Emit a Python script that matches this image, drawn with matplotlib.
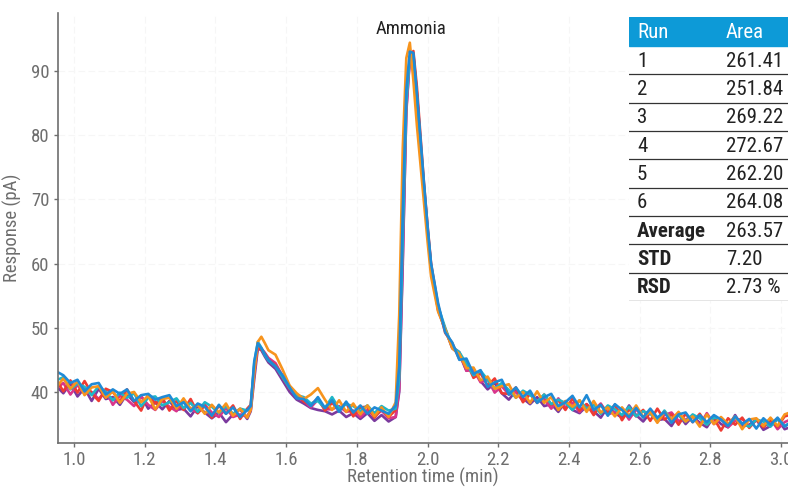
import matplotlib
matplotlib.use("Agg")
import matplotlib.pyplot as plt
from matplotlib.patches import Rectangle

# narrow fonts first, whichever one is installed gets used
plt.rcParams['font.family'] = ['Roboto Condensed', 'DejaVu Sans Condensed', 'Liberation Sans Narrow',
                               'Roboto', 'DejaVu Sans']

# retention time grid (min)
time = [0.95, 0.97, 0.99, 1.01, 1.03, 1.05, 1.07, 1.09, 1.11, 1.13, 1.15, 1.17, 1.19, 1.21,
        1.23, 1.25, 1.27, 1.29, 1.31, 1.33, 1.35, 1.37, 1.39, 1.41, 1.43, 1.45, 1.47, 1.49,
        1.50, 1.51, 1.52, 1.53, 1.54, 1.55, 1.57, 1.59, 1.61, 1.63, 1.65,
        1.67, 1.69, 1.71, 1.73, 1.75, 1.77, 1.79, 1.81, 1.83, 1.85, 1.87, 1.89, 1.91,
        1.92, 1.93, 1.94, 1.95, 1.96, 1.97, 1.98, 1.99, 2.00, 2.01,
        2.03, 2.05, 2.07, 2.09, 2.11, 2.13, 2.15, 2.17, 2.19, 2.21, 2.23, 2.25, 2.27, 2.29,
        2.31, 2.33, 2.35, 2.37, 2.39, 2.41, 2.43, 2.45, 2.47, 2.49, 2.51, 2.53, 2.55, 2.57,
        2.59, 2.61, 2.63, 2.65, 2.67, 2.69, 2.71, 2.73, 2.75, 2.77, 2.79, 2.81, 2.83, 2.85,
        2.87, 2.89, 2.91, 2.93, 2.95, 2.97, 2.99, 3.01, 3.03]

# response (pA) for each run
run1 = [41.9, 40.1, 41.8, 39.9, 41.7, 39.8, 38.6, 40.5, 40.0, 38.5, 40.4, 38.6, 37.1, 39.6,
        38.2, 39.1, 37.1, 38.6, 37.2, 38.9, 36.7, 37.9, 36.0, 37.9, 36.6, 37.9, 35.8, 37.4,
        38.0, 44.0, 47.0, 46.6, 46.0, 45.0, 44.2, 42.3, 40.5, 39.6, 38.5,
        38.0, 39.0, 37.1, 38.3, 37.2, 38.3, 36.2, 37.6, 37.7, 36.0, 37.4, 36.1, 37.2,
        43.0, 66.0, 86.0, 92.0, 93.1, 87.5, 80.0, 72.5, 66.0, 60.0,
        53.5, 49.2, 47.6, 45.1, 44.7, 42.2, 42.9, 41.0, 42.1, 39.8, 39.7, 40.7, 38.4, 39.7,
        38.3, 39.6, 38.0, 38.7, 37.2, 39.0, 37.1, 38.1, 36.4, 38.0, 36.8, 38.0, 35.6, 37.3,
        36.2, 37.2, 35.5, 37.4, 35.7, 36.5, 34.9, 36.6, 35.3, 36.6, 34.9, 35.9, 34.0, 35.9,
        34.9, 36.0, 34.4, 35.7, 34.5, 35.5, 34.6, 36.2, 36.5]
run2 = [40.7, 42.1, 40.5, 41.7, 39.5, 40.7, 40.9, 39.1, 40.1, 38.3, 39.7, 40.0, 38.4, 39.4,
        37.3, 38.9, 39.1, 37.4, 39.0, 37.3, 38.0, 36.6, 38.0, 36.8, 38.2, 36.3, 37.4, 36.0,
        37.2, 43.0, 47.8, 48.6, 47.6, 46.5, 45.8, 43.5, 41.0, 39.8, 38.9,
        39.6, 40.6, 38.8, 37.2, 38.7, 36.9, 38.2, 36.5, 37.9, 36.2, 37.6, 36.1, 38.4,
        52.0, 78.0, 92.0, 94.4, 88.5, 81.5, 75.5, 69.5, 63.5, 58.0,
        52.5, 49.8, 46.8, 45.9, 43.7, 43.8, 41.8, 42.4, 40.5, 40.9, 41.2, 39.1, 40.0, 38.3,
        40.1, 38.3, 39.2, 37.2, 38.6, 37.7, 38.7, 36.9, 38.6, 36.8, 37.6, 36.2, 37.6, 36.3,
        37.9, 36.1, 36.9, 35.2, 36.9, 35.7, 36.9, 35.4, 36.2, 34.6, 36.5, 35.0, 36.1, 35.0,
        36.2, 34.2, 35.7, 35.9, 34.7, 36.0, 34.7, 36.5, 36.9]
run3 = [40.9, 39.8, 41.3, 39.3, 40.6, 38.6, 40.5, 38.9, 39.2, 38.0, 39.7, 38.4, 39.4, 37.4,
        38.4, 37.3, 38.6, 37.2, 37.4, 36.2, 37.8, 36.8, 35.9, 36.8, 35.3, 36.5, 37.3, 35.8,
        37.0, 42.0, 46.8, 46.5, 45.5, 44.6, 43.6, 41.8, 40.0, 38.8, 38.2,
        37.5, 37.2, 37.0, 36.5, 37.1, 36.1, 36.7, 35.8, 36.7, 35.5, 36.4, 35.4, 36.1,
        40.0, 60.0, 84.0, 92.0, 92.5, 86.0, 78.5, 71.5, 65.0, 59.2,
        52.8, 49.8, 46.8, 45.9, 43.3, 43.6, 41.7, 40.4, 41.4, 39.8, 38.8, 40.2, 39.0, 38.1,
        39.2, 37.8, 38.1, 36.9, 38.5, 37.2, 36.7, 37.8, 37.0, 36.0, 37.7, 36.7, 36.0, 37.9,
        36.4, 35.4, 36.8, 35.6, 35.8, 34.7, 36.5, 35.0, 36.2, 35.2, 34.5, 36.2, 35.0, 34.5,
        36.4, 34.6, 34.9, 35.7, 34.1, 34.7, 35.8, 34.2, 34.6]
run4 = [43.2, 42.6, 41.4, 41.9, 40.1, 41.2, 41.4, 39.6, 40.4, 39.7, 40.4, 38.6, 39.5, 39.7,
        38.8, 39.2, 39.5, 37.8, 38.4, 37.0, 38.2, 37.7, 36.3, 38.0, 36.6, 37.6, 36.1, 37.2,
        37.8, 44.8, 47.6, 46.8, 45.9, 45.0, 44.0, 42.6, 40.7, 39.0, 38.9,
        37.8, 39.2, 37.5, 38.7, 36.9, 38.5, 36.8, 37.9, 36.6, 37.6, 37.1, 36.6, 37.9,
        44.0, 68.0, 87.0, 93.0, 92.8, 86.5, 79.5, 72.5, 65.8, 60.0,
        53.8, 49.3, 47.7, 45.0, 45.2, 42.8, 43.4, 40.8, 41.5, 41.9, 39.6, 40.7, 39.2, 40.2,
        38.3, 39.2, 39.7, 37.8, 38.4, 39.4, 37.6, 39.5, 37.2, 38.0, 36.3, 38.1, 37.2, 36.1,
        37.5, 36.0, 37.4, 36.0, 36.9, 35.2, 36.5, 36.8, 35.3, 36.4, 35.3, 36.4, 35.7, 34.7,
        36.2, 35.0, 35.8, 34.3, 35.9, 34.9, 36.0, 34.6, 35.4]
run5 = [41.8, 42.3, 40.4, 41.3, 40.8, 39.5, 40.9, 40.0, 38.7, 39.9, 39.1, 39.8, 37.8, 39.1,
        39.3, 37.9, 38.4, 39.0, 37.5, 38.3, 36.9, 38.4, 37.7, 36.7, 37.8, 36.6, 37.4, 37.1,
        37.6, 44.5, 47.8, 46.9, 45.7, 44.9, 44.0, 42.3, 40.6, 39.5, 39.2,
        38.2, 38.6, 37.5, 39.2, 37.4, 38.1, 37.8, 37.0, 37.9, 36.7, 37.8, 37.1, 37.4,
        42.0, 64.0, 85.0, 92.3, 92.2, 85.8, 78.8, 71.8, 65.3, 59.6,
        53.3, 50.0, 47.0, 46.2, 44.4, 42.6, 43.3, 41.9, 40.5, 41.4, 40.3, 39.1, 40.2, 39.6,
        38.5, 39.6, 38.1, 38.8, 38.3, 37.2, 38.7, 37.4, 38.0, 36.6, 37.9, 37.3, 36.4, 37.7,
        36.2, 37.0, 36.6, 35.6, 37.1, 35.7, 36.4, 35.4, 36.5, 35.9, 34.9, 36.0, 35.8, 34.9,
        36.0, 35.1, 34.6, 35.7, 35.4, 34.6, 35.8, 34.7, 35.3]
run6 = [40.5, 41.4, 39.6, 41.1, 39.7, 40.0, 38.9, 40.2, 38.0, 39.4, 38.8, 37.8, 39.3, 38.0,
        37.2, 38.6, 37.7, 37.0, 38.6, 37.4, 36.7, 38.0, 36.8, 36.1, 37.5, 36.1, 36.5, 36.2,
        37.2, 43.0, 47.2, 46.8, 46.1, 45.3, 44.5, 42.5, 40.9, 39.2, 38.6,
        37.6, 38.8, 37.3, 37.3, 37.8, 36.9, 37.1, 36.1, 37.2, 36.2, 37.1, 35.9, 36.1,
        40.5, 61.0, 83.5, 92.0, 92.4, 86.5, 79.0, 72.0, 65.5, 59.8,
        52.7, 49.7, 47.0, 46.2, 43.3, 43.5, 41.5, 42.0, 39.9, 40.9, 39.6, 40.0, 38.6, 39.7,
        38.6, 38.9, 37.4, 39.0, 37.6, 38.3, 36.9, 38.1, 37.1, 38.2, 36.5, 36.9, 37.4, 35.7,
        37.3, 36.1, 36.8, 35.4, 36.4, 36.8, 35.5, 35.7, 36.3, 34.8, 36.7, 35.0, 35.8, 34.5,
        35.5, 35.8, 34.6, 35.6, 34.8, 35.8, 34.2, 35.3, 35.8]

# table contents
runs = ["1", "2", "3", "4", "5", "6"]
areas = ["261.41", "251.84", "269.22", "272.67", "262.20", "264.08"]
stat_names = ["Average", "STD", "RSD"]
stat_values = ["263.57", "7.20", "2.73 %"]

x_ticks = [1.0, 1.2, 1.4, 1.6, 1.8, 2.0, 2.2, 2.4, 2.6, 2.8, 3.0]
y_ticks = [40, 50, 60, 70, 80, 90]

gray = "#6e6e6e"

fig = plt.figure(figsize=(7.88, 4.87), dpi=100)
ax = fig.add_axes([0.0732, 0.091, 0.927, 0.882])

# draw order so blue ends up on top like the original
traces = [(run3, "#7b3a9e"), (run6, "#d9358b"), (run1, "#ee3b33"),
          (run5, "#1fb6c6"), (run2, "#f7941d"), (run4, "#1f8ad6")]
for ys, c in traces:
    ax.plot(time, ys, color=c, lw=1.9, solid_joinstyle="round")

ax.text(1.952, 96.6, "Ammonia", ha="center", va="center", fontsize=13.5, color="#222222")

ax.set_xlim(0.954, 3.02)
ax.set_ylim(32.1, 99.0)
ax.set_xticks(x_ticks)
ax.set_xticklabels([f"{v:.1f}" for v in x_ticks])
ax.set_yticks(y_ticks)
ax.grid(True, color="#f6f6f6", lw=0.8, ls=(0, (6, 3)))
ax.set_axisbelow(True)
ax.tick_params(direction="out", length=3, width=1, colors=gray, labelsize=13.5, pad=3)
for s in ["top", "right"]:
    ax.spines[s].set_visible(False)
for s in ["left", "bottom"]:
    ax.spines[s].set_color(gray)
    ax.spines[s].set_linewidth(1.2)
ax.set_xlabel("Retention time (min)", fontsize=13.5, color=gray, labelpad=-1)
ax.set_ylabel("Response (pA)", fontsize=13.5, color=gray, labelpad=6)

# results table in its own axes, pixel-like units
tx0, ty0, ty1 = 629, 17, 301
tab = fig.add_axes([tx0 / 788, 1 - ty1 / 487, 1 - tx0 / 788, (ty1 - ty0) / 487])
tab.set_xlim(0, 788 - tx0)
tab.set_ylim(ty1 - ty0, 0)
tab.axis("off")
tab.add_patch(Rectangle((0, 0), 788 - tx0, 29, color="#0d9ad7", zorder=1))
tab.text(8, 15, "Run", color="white", fontsize=15, va="center")
tab.text(97, 15, "Area", color="white", fontsize=15, va="center")

row_h = (ty1 - ty0 - 29) / 9
labels = runs + stat_names
values = areas + stat_values
for i, (lab, val) in enumerate(zip(labels, values)):
    top = 29 + i * row_h
    bold = lab in stat_names
    tab.add_patch(Rectangle((0, top), 788 - tx0, row_h, color="white", zorder=0))
    tab.text(8, top + row_h / 2 + 1, lab, fontsize=15, va="center", color="#222222",
             fontweight="bold" if bold else "normal")
    tab.text(97, top + row_h / 2 + 1, val, fontsize=15, va="center", color="#222222")
    tab.plot([0, 788 - tx0], [top + row_h, top + row_h], color="#333333", lw=0.9)

fig.savefig("out.png", dpi=100)
